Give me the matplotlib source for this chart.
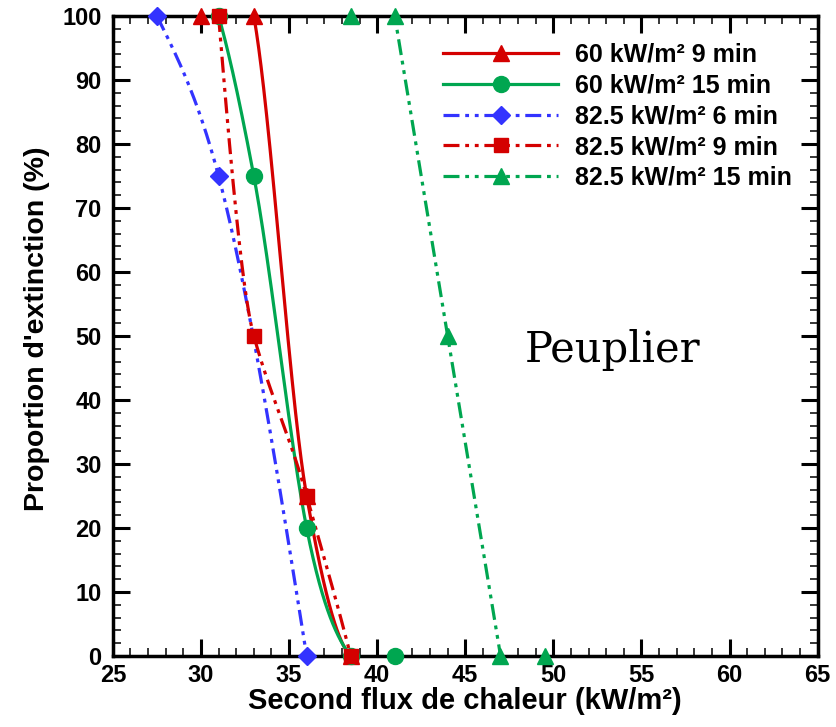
import numpy as np
import matplotlib.pyplot as plt
from matplotlib.lines import Line2D
from matplotlib.ticker import MultipleLocator

# data
x_60_9 = [30, 33, 36, 38.5]
y_60_9 = [100, 100, 25, 0]
x_60_15 = [31, 33, 36, 38.5, 41]
y_60_15 = [100, 75, 20, 0, 0]
x_825_6 = [27.5, 31, 36]
y_825_6 = [100, 75, 0]
x_825_9 = [31, 33, 36, 38.5]
y_825_9 = [100, 50, 25, 0]
x_825_15 = [38.5, 41, 44, 47, 49.5]
y_825_15 = [100, 100, 50, 0, 0]
labels = ["60 kW/m² 9 min", "60 kW/m² 15 min", "82.5 kW/m² 6 min",
          "82.5 kW/m² 9 min", "82.5 kW/m² 15 min"]


def hermite(x, y, d, n=400):
    xs = np.linspace(x[0], x[-1], n)
    j = np.clip(np.searchsorted(x, xs) - 1, 0, len(x) - 2)
    h = x[j + 1] - x[j]
    t = (xs - x[j]) / h
    h00 = 2 * t**3 - 3 * t**2 + 1
    h10 = t**3 - 2 * t**2 + t
    h01 = -2 * t**3 + 3 * t**2
    h11 = t**3 - t**2
    return xs, h00 * y[j] + h10 * h * d[j] + h01 * y[j + 1] + h11 * h * d[j + 1]


def akima(x, y):
    x = np.asarray(x, float)
    y = np.asarray(y, float)
    m = np.diff(y) / np.diff(x)
    m = np.concatenate([[3 * m[0] - 2 * m[1], 2 * m[0] - m[1]], m,
                        [2 * m[-1] - m[-2], 3 * m[-1] - 2 * m[-2]]])
    w = np.abs(np.diff(m))
    w1 = w[2:]
    w2 = w[:-2]
    a = m[1:-2]
    b = m[2:-1]
    den = w1 + w2
    d = np.where(den > 1e-9, (w1 * a + w2 * b) / np.where(den > 1e-9, den, 1), 0.5 * (a + b))
    return hermite(x, y, d)


def natural(x, y):
    # natural cubic spline, slopes from the second derivatives
    x = np.asarray(x, float)
    y = np.asarray(y, float)
    k = len(x)
    h = np.diff(x)
    A = np.zeros((k, k))
    r = np.zeros(k)
    A[0, 0] = A[-1, -1] = 1
    for i in range(1, k - 1):
        A[i, i - 1] = h[i - 1]
        A[i, i] = 2 * (h[i - 1] + h[i])
        A[i, i + 1] = h[i]
        r[i] = 6 * ((y[i + 1] - y[i]) / h[i] - (y[i] - y[i - 1]) / h[i - 1])
    M = np.linalg.solve(A, r)
    s = np.diff(y) / h
    d = np.empty(k)
    d[:-1] = s - h * (2 * M[:-1] + M[1:]) / 6
    d[-1] = s[-1] + h[-1] * (M[-2] + 2 * M[-1]) / 6
    return hermite(x, y, d)


red = "#d40000"
green = "#00a650"
blue = "#3333ff"
lw = 2.3
dd = (0, (5, 1.8, 1.2, 1.8, 1.2, 1.8))

series = [
    (x_60_9, y_60_9, red, "-", "^", 11, akima),
    (x_60_15, y_60_15, green, "-", "o", 11.5, akima),
    (x_825_6, y_825_6, blue, dd, "D", 9, natural),
    (x_825_9, y_825_9, red, dd, "s", 10, akima),
    (x_825_15, y_825_15, green, dd, "^", 11, akima),
]

plt.rcParams['font.family'] = ['Liberation Sans', 'DejaVu Sans']
fig = plt.figure(figsize=(8.36, 7.27), dpi=100)
ax = fig.add_axes([0.135, 0.0976, 0.843, 0.8804])

handles = []
for (xs, ys, c, ls, mk, ms, fit), lab in zip(series, labels):
    px, py = fit(xs, ys)
    ax.plot(px, py, color=c, linestyle=ls, lw=lw, zorder=3)
    ax.plot(xs, ys, linestyle="none", marker=mk, ms=ms, color=c, zorder=4, clip_on=False)
    handles.append(Line2D([], [], color=c, linestyle=ls, lw=lw, marker=mk, ms=ms))

ax.set_xlim(25, 65)
ax.set_ylim(0, 100)
ax.xaxis.set_major_locator(MultipleLocator(5))
ax.xaxis.set_minor_locator(MultipleLocator(1))
ax.yaxis.set_major_locator(MultipleLocator(10))
ax.yaxis.set_minor_locator(MultipleLocator(2))
ax.tick_params(which="both", direction="in", top=True, right=True)
ax.tick_params(which="major", length=12, width=2.2, labelsize=17)
ax.tick_params(axis="x", which="major", pad=6)
ax.tick_params(axis="y", which="major", pad=8)
ax.tick_params(which="minor", length=6, width=1.1)
for lab in ax.get_xticklabels() + ax.get_yticklabels():
    lab.set_fontweight("bold")
for s in ax.spines.values():
    s.set_linewidth(2.5)

ax.set_xlabel("Second flux de chaleur (kW/m²)", fontsize=21, fontweight="bold", labelpad=0)
ax.set_ylabel("Proportion d'extinction (%)", fontsize=20.5, fontweight="bold")
ax.yaxis.set_label_coords(-0.089, 0.512)

leg = ax.legend(handles, labels, loc="upper left", bbox_to_anchor=(0.530, 0.941),
                bbox_transform=fig.transFigure, borderpad=0, borderaxespad=0,
                frameon=False, prop={"weight": "bold", "size": 18},
                handlelength=4.6, handletextpad=0.68, labelspacing=0.27)

ax.text(48.4, 45.9, "Peuplier", fontsize=30, family="DejaVu Serif", va="baseline", ha="left")

fig.savefig("out.png", dpi=100)
